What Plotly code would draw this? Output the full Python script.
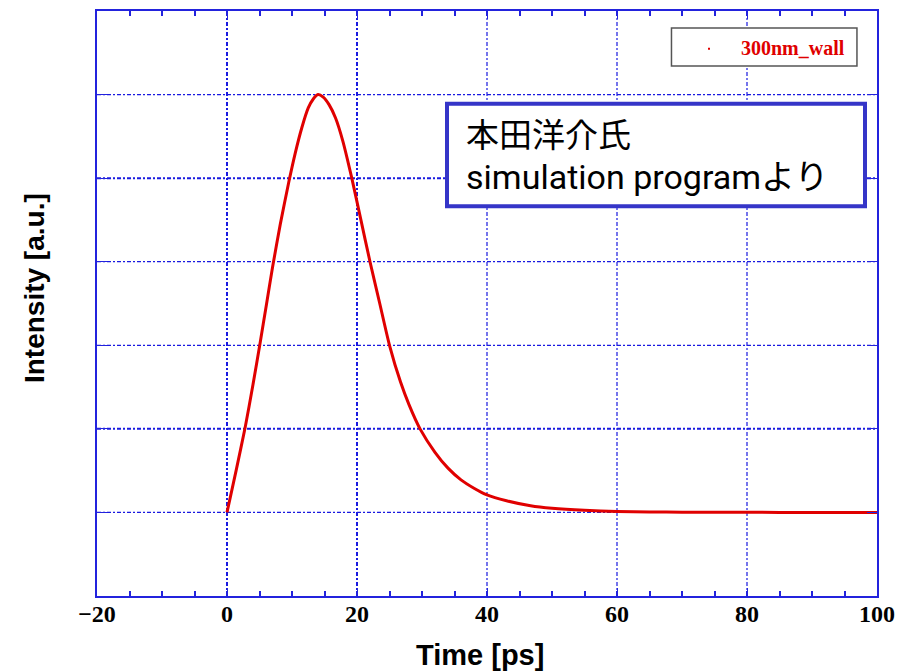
import plotly.graph_objects as go

# ---- data ----
time_ps = [0, 1.4, 2.8, 4.0, 5.1, 6.05, 7.0, 8.2, 9.5, 10.5, 11.5, 12.5, 13.3, 14, 14.8,
           15.7, 16.7, 17.8, 19.2, 20.6, 22.0, 23.5, 25, 26.7, 28, 29.7, 32, 34, 36, 38,
           40, 43, 46.7, 50, 55, 60, 65, 70, 80, 90, 100]
intensity = [0, 0.5, 1.02, 1.53, 2.03, 2.48, 2.93, 3.45, 3.95, 4.3, 4.6, 4.84, 4.95, 5.0, 4.97,
             4.88, 4.72, 4.45, 4.0, 3.5, 3.0, 2.5, 2.0, 1.56, 1.29, 1.0, 0.72, 0.53, 0.39, 0.29,
             0.21, 0.14, 0.08, 0.05, 0.025, 0.012, 0.006, 0.003, 0.001, 0.0, 0.0]
series_name = "300nm_wall"
x_ticks = [-20, 0, 20, 40, 60, 80, 100]
x_grid = [0, 20, 40, 60, 80]
y_grid = [0, 1, 2, 3, 4, 5]
thick_x_grid = [0, 20]
thick_y_grid = [1, 4]
note_line1 = "本田洋介氏"
note_line2 = "simulation programより"

AX = "#2323dd"
GRID = "#1a1ae0"
DASH = "4px,2px,2px,2px"

fig = go.Figure()
fig.add_trace(go.Scatter(x=time_ps, y=intensity, mode="lines",
                         line=dict(color="#e00000", width=3, shape="spline", smoothing=0.6),
                         showlegend=False, name=series_name))

# dash-dot grid lines
for xv in x_grid:
    fig.add_shape(type="line", xref="x", yref="paper", x0=xv, x1=xv, y0=0, y1=1,
                  line=dict(color=GRID, width=2 if xv in thick_x_grid else 1.2, dash=DASH),
                  layer="below")
for yv in y_grid:
    fig.add_shape(type="line", xref="paper", yref="y", x0=0, x1=1, y0=yv, y1=yv,
                  line=dict(color=GRID, width=2 if yv in thick_y_grid else 1.2, dash=DASH),
                  layer="below")

fig.update_xaxes(range=[-20, 100], tickvals=x_ticks, showline=True, linecolor=AX, linewidth=2,
                 mirror="ticks", ticks="inside", ticklen=8, tickcolor=AX, tickwidth=1,
                 showgrid=False, zeroline=False, ticklabelstandoff=-5,
                 tickfont=dict(family="Liberation Serif", size=24, color="black", weight="bold"),
                 minor=dict(ticks="inside", ticklen=5, dtick=5, tickcolor=AX, tickwidth=1.5,
                            showgrid=False))
fig.update_yaxes(range=[-1, 6], tickvals=y_grid, showticklabels=False, showline=True,
                 linecolor=AX, linewidth=2, mirror="ticks", ticks="inside", ticklen=10,
                 tickcolor=AX, tickwidth=1, showgrid=False, zeroline=False)

# legend box
fig.add_shape(type="rect", xref="paper", yref="paper", x0=0.7365, x1=0.9743, y0=0.906, y1=0.971,
              line=dict(color="#555555", width=1.5), fillcolor="white")
fig.add_shape(type="rect", xref="paper", yref="paper",
              x0=(708 - 97) / 780, x1=(710 - 97) / 780, y0=(596 - 48) / 587, y1=(596 - 46) / 587,
              line=dict(width=0), fillcolor="#e00000")
fig.add_annotation(xref="paper", yref="paper", x=(793 - 97) / 780, y=(596 - 46) / 587,
                   text=series_name, showarrow=False, xanchor="center", yanchor="middle",
                   font=dict(family="Liberation Serif", size=20, color="#e00000", weight="bold"))

# note box
fig.add_shape(type="rect", xref="paper", yref="paper",
              x0=(447 - 97) / 780, x1=(865 - 97) / 780, y0=(596 - 205) / 587, y1=(596 - 102) / 587,
              line=dict(color="#3535c8", width=4), fillcolor="white")
fig.add_annotation(xref="paper", yref="paper", x=(464 - 97) / 780, y=(596 - 131) / 587,
                   text=note_line1, showarrow=False, xanchor="left", yanchor="middle",
                   font=dict(family="Noto Sans CJK JP", size=33, color="black"))
fig.add_annotation(xref="paper", yref="paper", x=(464 - 97) / 780, y=(596 - 176) / 587,
                   text=note_line2, showarrow=False, xanchor="left", yanchor="middle",
                   font=dict(family="Roboto, Noto Sans CJK JP", size=34, color="black"))

# axis titles
fig.add_annotation(xref="paper", yref="paper", x=(480 - 97) / 780, y=(596 - 655) / 587,
                   text="Time [ps]", showarrow=False, xanchor="center", yanchor="middle",
                   font=dict(family="Liberation Sans", size=29, color="black", weight="bold"))
fig.add_annotation(xref="paper", yref="paper", x=(34 - 97) / 780, y=(596 - 287) / 587,
                   text="Intensity [a.u.]", showarrow=False, textangle=-90,
                   xanchor="center", yanchor="middle",
                   font=dict(family="Liberation Sans", size=28, color="black", weight="bold"))

fig.update_layout(width=908, height=672, margin=dict(l=97, r=31, t=9, b=76),
                  plot_bgcolor="white", paper_bgcolor="white", showlegend=False)

fig.write_html("out.html")
